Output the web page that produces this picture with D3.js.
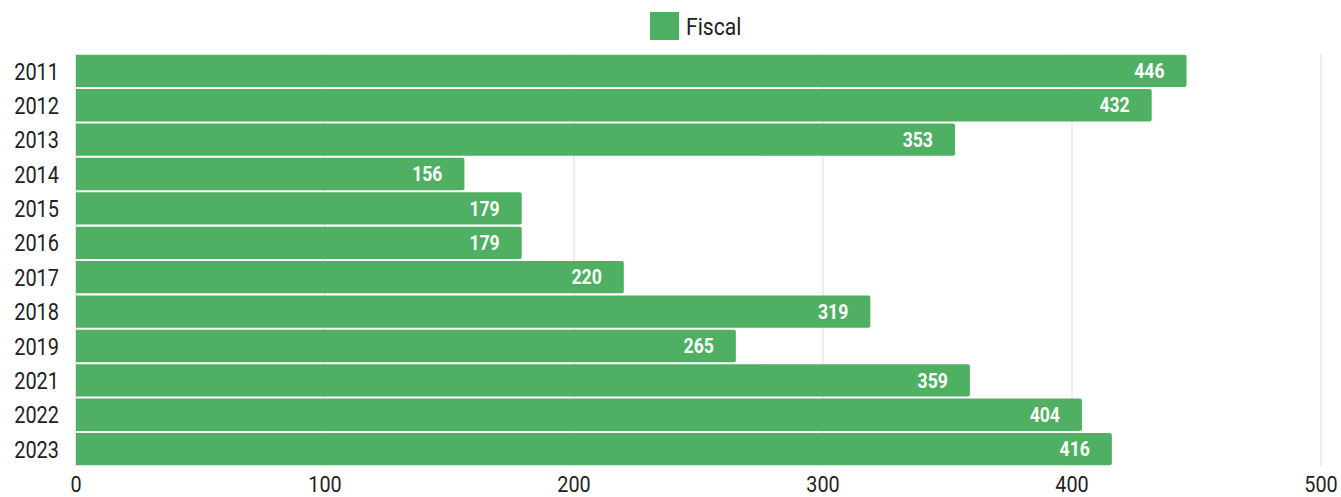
<!DOCTYPE html>
<html><head><meta charset="utf-8">
<script src="https://cdn.jsdelivr.net/npm/d3@7"></script>
<style>body{margin:0;background:#fff}svg{display:block}</style>
</head><body>
<svg id="c" width="1341" height="497"></svg>
<script>
const categories = ["2011","2012","2013","2014","2015","2016","2017","2018","2019","2021","2022","2023"];
const values = [446,432,353,156,179,179,220,319,265,359,404,416];
const xTicks = [0,100,200,300,400,500];
const seriesName = "Fiscal";

const color = "#4faf62";
const svg = d3.select("#c");
const m = {left:76, right:20, top:54, bottom:31};
const W = 1341, H = 497;
const x = d3.scaleLinear().domain([0,500]).range([m.left, W - m.right]);
const y = d3.scaleBand().domain(categories).range([m.top, H - m.bottom]).paddingInner(0.06).paddingOuter(0.02);

function cText(g, px, py, sx) {
  return g.append("g").attr("transform", `translate(${px},${py}) scale(${sx},1)`).append("text")
    .attr("font-family", "Roboto, sans-serif");
}

// grid
svg.append("g").selectAll("line").data(xTicks.slice(1)).join("line")
  .attr("x1", d=>x(d)).attr("x2", d=>x(d)).attr("y1", m.top).attr("y2", H - m.bottom)
  .attr("stroke", "#dcdcdc").attr("stroke-width", 1);
svg.append("line").attr("x1", x(0)).attr("x2", x(0)).attr("y1", m.top).attr("y2", H - m.bottom)
  .attr("stroke", "#cfcfcf");

// bars
svg.append("g").selectAll("path").data(values).join("path")
  .attr("fill", color)
  .attr("d", (d,i) => {
    const x0 = x(0), x1 = x(d), y0 = y(categories[i]), h = y.bandwidth(), r = 2;
    return `M${x0},${y0}H${x1-r}Q${x1},${y0} ${x1},${y0+r}V${y0+h-r}Q${x1},${y0+h} ${x1-r},${y0+h}H${x0}Z`;
  });

// value labels
const vl = svg.append("g");
values.forEach((d,i) => {
  cText(vl, x(d) - 22, y(categories[i]) + y.bandwidth()/2, 0.88)
    .attr("dy", "0.36em").attr("text-anchor", "end")
    .attr("font-weight", 700).attr("font-size", 20).attr("fill", "#fff")
    .text(d);
});

// y axis labels
const yl = svg.append("g");
categories.forEach(c => {
  cText(yl, 59, y(c) + y.bandwidth()/2, 0.83)
    .attr("dy", "0.36em").attr("text-anchor", "end")
    .attr("font-size", 24).attr("fill", "#222").text(c);
});

// x axis labels
const xl = svg.append("g");
xTicks.forEach(t => {
  cText(xl, x(t), 492, 0.9)
    .attr("text-anchor", "middle")
    .attr("font-size", 22).attr("fill", "#222").text(t);
});

// legend
const lg = svg.append("g");
lg.append("rect").attr("x", 650).attr("y", 12).attr("width", 29).attr("height", 28).attr("fill", color);
cText(lg, 686, 35, 0.88).attr("font-size", 24).attr("fill", "#222").text(seriesName);
</script>
</body></html>
